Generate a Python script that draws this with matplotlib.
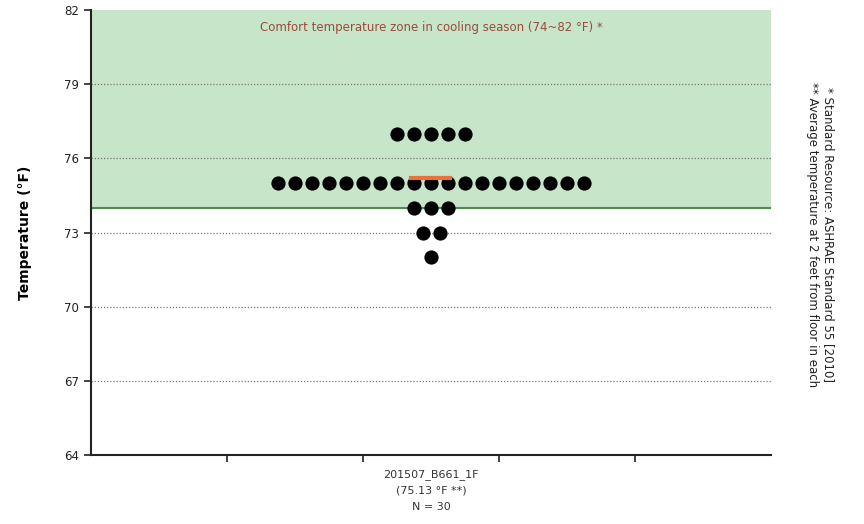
import matplotlib.pyplot as plt
import numpy as np

# temperatures
temps = [77]*5 + [75]*19 + [74]*3 + [73]*2 + [72]
category = "201507_B661_1F"
mean_label = "75.13"
mean_val = 75.13
n_label = "N = 30"
yticks = [64, 67, 70, 73, 76, 79, 82]
zone_lo, zone_hi = 74, 82

fig = plt.figure(figsize=(8.64, 5.24), dpi=100)
ax = fig.add_axes([91/864, 1-455/524, 680/864, 445/524])

ax.axhspan(zone_lo, zone_hi, color="#c6e5c9", zorder=0)
ax.axhline(zone_lo, color="#4f8a55", lw=1.5, zorder=1)
for t in yticks[1:-1]:
    ax.axhline(t, color="#777777", lw=0.9, ls=(0, (1, 1.5)), zorder=1)

# stack equal values side by side around the category centre
xc = 2.5
step = 0.125
vals, counts = np.unique(temps, return_counts=True)
for v, c in zip(vals, counts):
    xs = xc + (np.arange(c) - (c - 1) / 2) * step
    ax.scatter(xs, [v]*c, s=105, color="black", zorder=3, linewidths=0)

ax.plot([xc - 0.15, xc + 0.14], [mean_val + 0.07]*2, color="#e8733a", lw=3, zorder=4)

ax.set_xlim(0, 5)
ax.set_ylim(64, 82)
ax.set_yticks(yticks)
ax.set_xticks([1, 2, 3, 4])
ax.set_xticklabels([])
ax.tick_params(axis="both", length=5, width=1.2, labelsize=8.5, colors="#222222")
for s in ["top", "right"]:
    ax.spines[s].set_visible(False)
for s in ["left", "bottom"]:
    ax.spines[s].set_linewidth(1.5)
    ax.spines[s].set_color("#222222")

ax.set_ylabel("Temperature (°F)", fontsize=10, fontweight="bold", labelpad=23)

ax.text(xc, 81.3, "Comfort temperature zone in cooling season (74~82 °F) *",
        ha="center", va="center", fontsize=8.5, color="#9c4a3f")

ax.text(xc, 63.45, category + "\n(" + mean_label + " °F **)\n" + n_label,
        ha="center", va="top", fontsize=8, color="#333333", linespacing=1.75)

fig.text(820/864, 1-82/524, "* Standard Resource: ASHRAE Standard 55 [2010]\n** Average temperature at 2 feet from floor in each",
         rotation=-90, ha="center", va="top", fontsize=8.5, color="#222222", linespacing=1.3)

fig.savefig("out.png", dpi=100)
